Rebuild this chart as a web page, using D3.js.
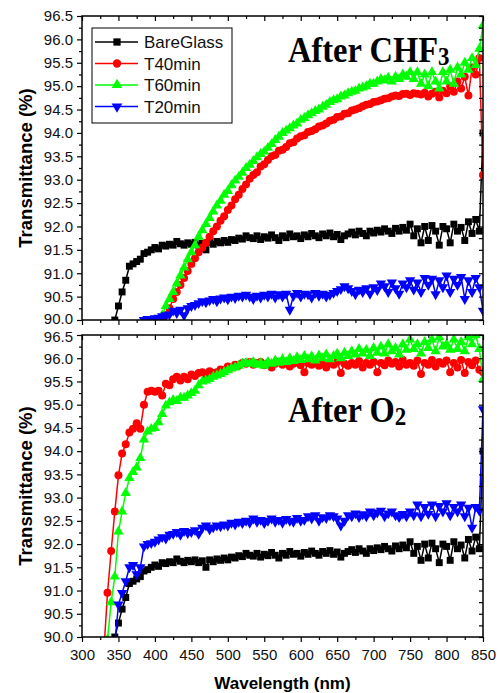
<!DOCTYPE html>
<html><head><meta charset="utf-8">
<script src="https://cdn.jsdelivr.net/npm/d3@7"></script>
<style>body{margin:0;background:#fff} svg{display:block}</style>
</head><body>
<svg id="c" width="503" height="693"></svg>
<script>
// ---------------- DATA ----------------
const wavelengths = [
 330,335,340,345,350,355,360,365,370,375,
 380,385,390,395,400,405,410,415,420,425,
 430,435,440,445,450,455,460,465,470,475,
 480,485,490,495,500,505,510,515,520,525,
 530,535,540,545,550,555,560,565,570,575,
 580,585,590,595,600,605,610,615,620,625,
 630,635,640,645,650,655,660,665,670,675,
 680,685,690,695,700,705,710,715,720,725,
 730,735,740,745,750,755,760,765,770,775,
 780,785,790,795,800,805,810,815,820,825,
 830,835,840,845,850];

const seriesNames = ["BareGlass","T40min","T60min","T20min"];

const bareGlass = [
 88.0,88.8,89.4,90.0,90.3,90.6,90.85,91.15,91.2,91.25,
 91.3,91.42,91.45,91.5,91.55,91.52,91.6,91.58,91.62,91.6,
 91.68,91.63,91.6,91.65,91.62,91.66,91.6,91.64,91.5,91.66,
 91.62,91.68,91.65,91.7,91.66,91.72,91.7,91.75,91.73,91.8,
 91.76,91.74,91.8,91.72,91.78,91.75,91.82,91.76,91.7,91.8,
 91.76,91.84,91.78,91.8,91.74,91.82,91.78,91.85,91.8,91.76,
 91.84,91.8,91.86,91.78,91.83,91.72,91.8,91.84,91.88,91.82,
 91.9,91.85,91.8,91.9,91.86,91.92,91.88,91.95,91.9,91.85,
 91.96,91.9,91.98,91.92,92.05,91.8,91.95,91.65,92.0,91.7,
 92.02,91.9,91.6,92.0,91.95,91.65,92.05,91.9,91.98,91.7,
 92.1,91.85,92.15,91.9,94.0];

const chfT40 = [
 null,null,null,null,null,null,null,null,null,null,
 null,null,89.2,89.4,89.65,89.8,89.95,90.1,90.25,90.45,
 90.6,90.75,90.9,91.05,91.2,91.32,91.45,91.55,91.65,91.78,
 91.9,92.0,92.12,92.22,92.35,92.45,92.58,92.68,92.8,92.9,
 93.02,93.1,93.16,93.28,93.33,93.42,93.5,93.53,93.62,93.64,
 93.7,93.78,93.8,93.88,93.93,93.95,94.02,94.04,94.08,94.14,
 94.16,94.2,94.26,94.28,94.34,94.35,94.41,94.42,94.48,94.5,
 94.53,94.57,94.6,94.62,94.66,94.67,94.7,94.73,94.74,94.78,
 94.8,94.79,94.83,94.84,94.81,94.85,94.84,94.82,94.86,94.78,
 94.84,94.88,94.76,94.9,94.85,95.0,94.88,95.1,94.95,95.2,
 94.8,95.4,95.25,95.6,93.1];

const chfT60 = [
 null,null,null,null,null,null,null,null,null,null,
 null,null,null,89.4,89.6,89.85,90.1,90.3,90.45,90.6,
 90.78,90.95,91.12,91.3,91.45,91.6,91.78,91.92,92.05,92.18,
 92.32,92.45,92.55,92.68,92.76,92.88,92.98,93.06,93.15,93.25,
 93.32,93.4,93.48,93.55,93.6,93.68,93.76,93.85,93.92,94.0,
 94.05,94.1,94.16,94.2,94.28,94.32,94.38,94.42,94.47,94.5,
 94.56,94.6,94.66,94.7,94.72,94.78,94.8,94.85,94.88,94.9,
 94.95,94.97,95.0,95.05,95.05,95.1,95.15,95.12,95.18,95.1,
 95.2,95.15,95.25,95.2,95.3,95.15,95.3,95.05,95.25,95.0,
 95.3,95.1,94.95,95.3,95.1,95.35,95.05,95.4,95.25,95.5,
 95.35,95.6,95.45,95.8,96.3];

const chfT20 = [
 null,null,null,null,null,null,null,null,null,89.8,
 89.9,90.0,90.02,90.0,90.04,90.05,90.08,90.1,90.12,90.2,
 90.15,90.22,90.1,90.25,90.3,90.32,90.36,90.4,90.38,90.42,
 90.45,90.4,90.46,90.48,90.44,90.5,90.47,90.52,90.5,90.54,
 90.5,90.45,90.52,90.48,90.54,90.5,90.56,90.48,90.55,90.5,
 90.56,90.22,90.52,90.58,90.5,90.56,90.55,90.48,90.58,90.52,
 90.56,90.5,90.54,90.58,90.62,90.66,90.72,90.68,90.62,90.55,
 90.65,90.6,90.68,90.56,90.7,90.64,90.78,90.72,90.6,90.8,
 90.68,90.56,90.78,90.7,90.85,90.65,90.8,90.6,90.9,90.75,
 90.88,90.55,90.85,90.7,90.95,90.6,90.88,90.75,90.92,90.45,
 90.85,90.6,90.9,90.7,90.2];

const o2T40 = [
 89.7,90.95,91.85,92.7,93.48,93.95,94.15,94.4,94.48,94.6,
 94.48,95.0,95.28,95.3,95.28,95.3,95.2,95.45,95.42,95.55,
 95.6,95.52,95.6,95.55,95.65,95.62,95.68,95.7,95.65,95.72,
 95.68,95.7,95.76,95.74,95.82,95.8,95.86,95.84,95.9,95.88,
 95.92,95.86,95.9,95.92,95.85,95.9,95.8,95.88,95.92,95.86,
 95.9,95.82,95.88,95.92,95.85,95.7,95.9,95.86,95.92,95.84,
 95.88,95.8,95.9,95.86,95.92,95.68,95.88,95.84,95.9,95.86,
 95.94,95.8,95.9,95.86,95.92,95.7,95.9,95.85,95.95,95.88,
 95.92,95.82,95.96,95.86,95.9,95.84,95.95,95.66,95.9,95.86,
 95.96,95.82,95.92,95.88,95.95,95.7,95.9,95.8,95.96,95.68,
 95.92,95.85,95.95,95.75,95.7];

const o2T60 = [
 89.3,89.95,90.75,91.3,92.27,92.7,93.1,93.42,93.55,93.65,
 93.85,94.25,94.42,94.48,94.5,94.62,94.8,94.98,95.05,95.1,
 95.08,95.15,95.15,95.2,95.25,95.3,95.42,95.5,95.52,95.55,
 95.6,95.63,95.66,95.7,95.74,95.78,95.8,95.84,95.88,95.9,
 95.88,95.92,95.86,95.9,95.84,95.92,95.88,95.95,95.9,95.98,
 95.92,96.0,95.94,96.02,95.96,96.05,95.98,96.04,95.95,96.06,
 96.0,96.08,95.98,96.05,96.1,96.0,96.12,96.05,96.15,96.08,
 96.2,96.1,96.18,96.05,96.22,96.12,96.25,96.1,96.3,96.15,
 96.22,96.08,96.3,96.18,96.4,96.2,96.3,96.1,96.35,96.22,
 96.4,96.15,96.45,96.25,96.3,96.18,96.4,96.2,96.35,96.15,
 96.45,96.3,96.5,96.2,95.55];

const o2T20 = [
 null,null,88.8,89.85,90.7,90.95,91.2,91.5,91.55,91.35,
 91.5,91.95,92.0,92.02,92.05,92.1,92.15,92.12,92.2,92.22,
 92.26,92.2,92.28,92.24,92.26,92.3,92.22,92.35,92.4,92.32,
 92.36,92.4,92.38,92.42,92.4,92.46,92.42,92.48,92.45,92.5,
 92.46,92.55,92.48,92.52,92.45,92.5,92.55,92.48,92.52,92.46,
 92.54,92.5,92.48,92.56,92.5,92.52,92.6,92.55,92.62,92.5,
 92.58,92.56,92.62,92.6,92.55,92.4,92.5,92.62,92.6,92.66,
 92.58,92.64,92.6,92.7,92.62,92.68,92.72,92.6,92.66,92.7,
 92.62,92.58,92.65,92.6,92.7,92.62,92.85,92.6,92.8,92.65,
 92.85,92.6,92.82,92.7,92.88,92.62,92.8,92.7,92.85,92.6,
 92.78,92.35,92.8,92.72,94.9];

const yTickLabels = [90.0,90.5,91.0,91.5,92.0,92.5,93.0,93.5,94.0,94.5,95.0,95.5,96.0,96.5];
const xTickLabels = [300,350,400,450,500,550,600,650,700,750,800,850];

// ---------------- DRAW ----------------
const svg = d3.select("#c");
const X0 = 82, X1 = 483;
const x = d3.scaleLinear().domain([300,850]).range([X0,X1]);
const yTop = d3.scaleLinear().domain([90,96.5]).range([320,16]);
const yBot = d3.scaleLinear().domain([90,96.5]).range([637,335]);

const styles = [
  {color:"#000000", type:d3.symbolSquare, size:48, rot:0},
  {color:"#ff0000", type:d3.symbolCircle, size:50, rot:0},
  {color:"#00ff00", type:d3.symbolTriangle, size:46, rot:0},
  {color:"#0000ff", type:d3.symbolTriangle, size:46, rot:180}
];

const midpoints = a => a.slice(1).map((v,i)=>(v+a[i])/2);
const yMinor = midpoints(yTickLabels);
const xMinor = midpoints(xTickLabels);
const yAll = yTickLabels.concat(yMinor);

function styleAxis(g){
  g.select(".domain").remove();
  g.selectAll(".tick line").attr("stroke","#000").attr("stroke-width",1.2);
  g.selectAll(".tick text").attr("fill","#111")
    .style("font-family","'Liberation Sans', Arial, sans-serif").style("font-size","15px");
}

function drawPanel(id, y, seriesList, showX, edgeShift){
  const [yb, yt] = y.range();
  const clipId = "clip"+id;
  svg.append("clipPath").attr("id",clipId).append("rect")
    .attr("x",X0).attr("y",yt).attr("width",X1-X0).attr("height",yb-yt);
  const g = svg.append("g").attr("clip-path",`url(#${clipId})`);
  seriesList.forEach((vals, si) => {
    const st = styles[si];
    const pts = wavelengths.map((w,i)=>({w, v:vals[i]})).filter(d=>d.v!=null);
    const line = d3.line().x(d=>x(d.w)).y(d=>y(d.v));
    g.append("path").datum(pts).attr("d",line).attr("fill","none")
      .attr("stroke",st.color).attr("stroke-width",1.5);
    const sym = d3.symbol().type(st.type).size(st.size);
    g.selectAll(null).data(pts).enter().append("path")
      .attr("d",sym)
      .attr("transform",d=>`translate(${x(d.w)},${y(d.v)}) rotate(${st.rot})`)
      .attr("fill",st.color);
  });

  // left axis
  const la = svg.append("g").attr("transform",`translate(${X0},0)`)
    .call(d3.axisLeft(y).tickValues(yTickLabels).tickSize(5).tickPadding(4).tickFormat(d3.format(".1f")))
    .call(styleAxis);
  // nudge the label at the shared edge so the two panels' edge labels do not collide
  la.selectAll(".tick text").filter(d => d === edgeShift.value).attr("y", edgeShift.dy);
  svg.append("g").attr("transform",`translate(${X0},0)`)
    .call(d3.axisLeft(y).tickValues(yMinor).tickSize(3).tickFormat(""))
    .call(styleAxis);
  // right axis (inward)
  svg.append("g").attr("transform",`translate(${X1},0)`)
    .call(d3.axisLeft(y).tickValues(yAll).tickSize(4).tickFormat(""))
    .call(styleAxis);
  // top axis (inward)
  svg.append("g").attr("transform",`translate(0,${yt})`)
    .call(d3.axisBottom(x).tickValues(xTickLabels).tickSize(5).tickFormat(""))
    .call(styleAxis);
  svg.append("g").attr("transform",`translate(0,${yt})`)
    .call(d3.axisBottom(x).tickValues(xMinor).tickSize(3).tickFormat(""))
    .call(styleAxis);
  // bottom axis (outward)
  svg.append("g").attr("transform",`translate(0,${yb})`)
    .call(d3.axisBottom(x).tickValues(xTickLabels).tickSize(5).tickPadding(7)
      .tickFormat(showX ? d3.format("d") : ""))
    .call(styleAxis);
  svg.append("g").attr("transform",`translate(0,${yb})`)
    .call(d3.axisBottom(x).tickValues(xMinor).tickSize(3).tickFormat(""))
    .call(styleAxis);
  // frame
  svg.append("rect").attr("x",X0).attr("y",yt).attr("width",X1-X0).attr("height",yb-yt)
    .attr("fill","none").attr("stroke","#000").attr("stroke-width",1.5);

  // y title
  svg.append("text")
    .attr("transform",`translate(32,${(yt+yb)/2}) rotate(-90)`)
    .attr("text-anchor","middle")
    .style("font-family","'Liberation Sans', Arial, sans-serif")
    .style("font-size","18.5px").style("font-weight","bold")
    .text("Transmittance (%)");
}

drawPanel("T", yTop, [bareGlass, chfT40, chfT60, chfT20], false, {value:90.0, dy:-1.5});
drawPanel("B", yBot, [bareGlass, o2T40, o2T60, o2T20], true, {value:96.5, dy:1.5});

// panel titles
function panelTitle(px, py, main, sub){
  const t = svg.append("text")
    .attr("transform",`translate(${px},${py}) scale(1,1.12)`)
    .style("font-family","'Liberation Serif','Times New Roman',serif")
    .style("font-size","32.5px").style("font-weight","bold").attr("fill","#000");
  t.append("tspan").text(main);
  t.append("tspan").attr("dy",3).style("font-size","23px").text(sub);
}
panelTitle(288, 62, "After CHF", "3");
panelTitle(288, 422, "After O", "2");

// legend
const lg = svg.append("g");
lg.append("rect").attr("x",92).attr("y",28).attr("width",140).attr("height",95)
  .attr("fill","#fff").attr("stroke","#000").attr("stroke-width",1);
const legendY = [42,63.5,85,106.5];
seriesNames.forEach((n,i)=>{
  const st = styles[i];
  lg.append("line").attr("x1",95).attr("x2",138).attr("y1",legendY[i]).attr("y2",legendY[i])
    .attr("stroke",st.color).attr("stroke-width",1.5);
  lg.append("path").attr("d",d3.symbol().type(st.type).size(st.size*1.1))
    .attr("transform",`translate(117,${legendY[i]}) rotate(${st.rot})`).attr("fill",st.color);
  lg.append("text").attr("x",144).attr("y",legendY[i]+6)
    .style("font-family","'Liberation Sans', Arial, sans-serif").style("font-size","17px")
    .attr("fill","#111").text(n);
});

// x title
svg.append("text").attr("x",(X0+X1)/2).attr("y",689).attr("text-anchor","middle")
  .style("font-family","'Liberation Sans', Arial, sans-serif")
  .style("font-size","17px").style("font-weight","bold")
  .text("Wavelength (nm)");
</script>
</body></html>
